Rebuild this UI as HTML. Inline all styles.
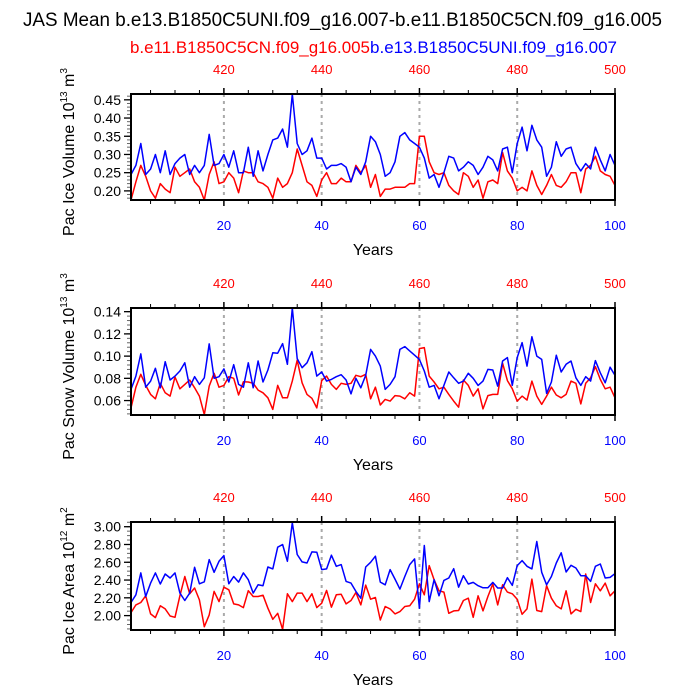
<!DOCTYPE html>
<html><head><meta charset="utf-8"><style>
html,body{margin:0;padding:0;background:#fff;}
svg{display:block;font-family:"Liberation Sans",Arial,sans-serif;}
</style></head><body>
<svg id="chart" width="686" height="685" viewBox="0 0 686 685" xmlns="http://www.w3.org/2000/svg">
<text x="23" y="26" font-size="19" textLength="639" lengthAdjust="spacingAndGlyphs">JAS Mean b.e13.B1850C5UNI.f09_g16.007-b.e11.B1850C5CN.f09_g16.005</text>
<text x="130" y="53" font-size="16.5" fill="#ff0000" textLength="240" lengthAdjust="spacingAndGlyphs">b.e11.B1850C5CN.f09_g16.005</text>
<text x="370" y="53" font-size="16.5" fill="#0000ff" textLength="247" lengthAdjust="spacingAndGlyphs">b.e13.B1850C5UNI.f09_g16.007</text>
</svg>
<script>
const years = Array.from({length:100},(_,i)=>i+1);
const iceVolBlue = [0.245,0.27,0.33,0.245,0.26,0.30,0.25,0.31,0.245,0.275,0.29,0.30,0.245,0.27,0.25,0.27,0.355,0.27,0.275,0.30,0.265,0.31,0.25,0.25,0.32,0.24,0.31,0.255,0.30,0.34,0.345,0.37,0.32,0.466,0.33,0.30,0.31,0.345,0.29,0.29,0.26,0.27,0.27,0.275,0.265,0.225,0.265,0.245,0.28,0.35,0.335,0.30,0.24,0.25,0.28,0.35,0.36,0.34,0.33,0.32,0.29,0.235,0.245,0.21,0.25,0.295,0.29,0.255,0.265,0.28,0.27,0.245,0.265,0.295,0.285,0.255,0.315,0.32,0.25,0.33,0.375,0.31,0.38,0.34,0.32,0.24,0.265,0.335,0.295,0.315,0.32,0.275,0.255,0.275,0.26,0.32,0.285,0.255,0.30,0.27];
const iceVolRed = [0.175,0.225,0.27,0.24,0.20,0.18,0.22,0.205,0.195,0.265,0.24,0.25,0.26,0.225,0.21,0.175,0.245,0.28,0.22,0.225,0.25,0.235,0.195,0.255,0.25,0.25,0.225,0.22,0.21,0.18,0.235,0.21,0.22,0.25,0.315,0.27,0.225,0.215,0.185,0.23,0.25,0.22,0.22,0.235,0.225,0.225,0.27,0.25,0.27,0.21,0.245,0.185,0.205,0.205,0.21,0.21,0.21,0.22,0.22,0.35,0.35,0.28,0.25,0.245,0.25,0.215,0.20,0.19,0.25,0.24,0.21,0.23,0.18,0.225,0.23,0.22,0.305,0.255,0.235,0.20,0.21,0.20,0.255,0.215,0.19,0.215,0.245,0.215,0.21,0.225,0.25,0.25,0.195,0.26,0.27,0.295,0.255,0.245,0.24,0.215];
const snowBlue = [0.070,0.082,0.102,0.072,0.0775,0.089,0.0715,0.095,0.0785,0.082,0.0866,0.094,0.072,0.0815,0.0745,0.0805,0.111,0.080,0.0815,0.0885,0.0767,0.0923,0.0745,0.072,0.094,0.0715,0.0956,0.0767,0.0875,0.103,0.1026,0.1113,0.0926,0.1433,0.0978,0.0896,0.094,0.104,0.082,0.0857,0.0775,0.079,0.0815,0.0833,0.0785,0.066,0.080,0.0715,0.0827,0.106,0.100,0.091,0.070,0.0745,0.0815,0.106,0.1086,0.1047,0.1008,0.097,0.0866,0.072,0.0736,0.0616,0.0736,0.0857,0.0805,0.0755,0.0775,0.0845,0.080,0.0736,0.0775,0.088,0.0875,0.073,0.0956,0.0987,0.0736,0.0987,0.1122,0.091,0.1174,0.100,0.097,0.0664,0.0767,0.1008,0.0857,0.0926,0.0956,0.0805,0.0736,0.0815,0.0775,0.096,0.085,0.076,0.090,0.0827];
const snowRed = [0.0534,0.072,0.0836,0.0736,0.0655,0.0616,0.0755,0.067,0.064,0.0812,0.0706,0.0745,0.0785,0.0715,0.064,0.0474,0.073,0.0845,0.072,0.0736,0.0815,0.080,0.065,0.077,0.0767,0.0755,0.0694,0.067,0.0625,0.052,0.0736,0.0625,0.0625,0.0775,0.0963,0.076,0.0655,0.062,0.0534,0.078,0.082,0.0745,0.070,0.0755,0.0745,0.0755,0.0827,0.0815,0.0836,0.0616,0.072,0.056,0.061,0.0595,0.0645,0.064,0.0616,0.067,0.064,0.1068,0.1077,0.082,0.0767,0.0706,0.072,0.0655,0.0595,0.054,0.0785,0.0736,0.064,0.0706,0.0525,0.0645,0.0655,0.0655,0.0935,0.078,0.0706,0.0595,0.064,0.0604,0.0775,0.064,0.0565,0.064,0.072,0.065,0.0625,0.0655,0.0775,0.0755,0.057,0.0755,0.0805,0.0905,0.079,0.0706,0.072,0.0625];
const areaBlue = [2.147,2.234,2.48,2.215,2.366,2.48,2.355,2.468,2.423,2.48,2.253,2.17,2.253,2.543,2.358,2.38,2.63,2.487,2.611,2.675,2.358,2.44,2.377,2.48,2.404,2.253,2.347,2.336,2.547,2.525,2.77,2.80,2.611,3.045,2.687,2.604,2.592,2.717,2.713,2.517,2.525,2.679,2.555,2.574,2.385,2.366,2.272,2.196,2.547,2.60,2.668,2.377,2.347,2.517,2.411,2.298,2.44,2.574,2.638,2.083,2.789,2.158,2.404,2.223,2.396,2.423,2.528,2.32,2.449,2.355,2.374,2.336,2.313,2.313,2.374,2.31,2.31,2.426,2.34,2.562,2.619,2.555,2.525,2.834,2.487,2.347,2.44,2.592,2.706,2.49,2.566,2.536,2.449,2.449,2.385,2.555,2.581,2.423,2.43,2.472];
const areaRed = [2.034,2.12,2.147,2.223,2.019,1.977,2.11,2.075,1.996,1.981,2.223,2.44,2.245,2.31,2.177,1.875,2.008,2.272,2.158,2.32,2.29,2.132,2.12,2.09,2.28,2.215,2.215,2.23,2.083,1.958,2.026,1.845,2.245,2.158,2.253,2.253,2.158,2.245,2.09,2.14,2.283,2.094,2.234,2.24,2.132,2.17,2.26,2.12,2.343,2.185,2.204,1.951,2.102,2.075,2.019,2.045,2.102,2.11,2.185,2.358,2.234,2.562,2.404,2.279,2.264,2.026,2.053,2.057,2.17,2.196,1.981,2.223,2.053,2.215,2.355,2.12,2.347,2.264,2.245,2.185,2.015,2.075,2.411,2.057,2.045,2.336,2.196,2.11,2.075,2.279,2.019,2.071,2.045,2.468,2.147,2.358,2.279,2.366,2.223,2.279];
const bottomTicks = [20,40,60,80,100];
const topTickLabels = ["420","440","460","480","500"];
const vol_ticks = ["0.20","0.25","0.30","0.35","0.40","0.45"];
const snow_ticks = ["0.06","0.08","0.10","0.12","0.14"];
const area_ticks = ["2.00","2.20","2.40","2.60","2.80","3.00"];

const NS="http://www.w3.org/2000/svg";
const svg=document.getElementById('chart');
function mk(tag,attrs,parent){const e=document.createElementNS(NS,tag);for(const k in attrs)e.setAttribute(k,attrs[k]);(parent||svg).appendChild(e);return e;}

const X0=131,X1=615;
function xs(yr){return X0+(yr-1)*(X1-X0)/99;}

const panels=[
 {name:'ice-volume',top:94,bot:200,ymin:0.175,ymax:0.466,ticks:vol_ticks,minor:0.01,blue:iceVolBlue,red:iceVolRed,label:['Pac Ice Volume 10','13',' m','3']},
 {name:'snow-volume',top:308,bot:415,ymin:0.047,ymax:0.1433,ticks:snow_ticks,minor:0.004,blue:snowBlue,red:snowRed,label:['Pac Snow Volume 10','13',' m','3']},
 {name:'ice-area',top:522,bot:630,ymin:1.838,ymax:3.053,ticks:area_ticks,minor:0.05,blue:areaBlue,red:areaRed,label:['Pac Ice Area 10','12',' m','2']}
];

panels.forEach(p=>{
 const g=mk('g',{});
 
 
 const ys=v=>p.bot-(v-p.ymin)*(p.bot-p.top)/(p.ymax-p.ymin);
 bottomTicks.slice(0,4).forEach(t=>{
  const l=mk('line',{x1:xs(t),x2:xs(t),y1:p.top,y2:p.bot,stroke:'#aaaaaa','stroke-width':2,'stroke-dasharray':'3,4'},g);
  
  
 });
 for(let yr=5;yr<=100;yr+=5){
  const major=yr%20===0;const len=major?6:4;
  mk('line',{x1:xs(yr),x2:xs(yr),y1:p.bot,y2:p.bot+len,stroke:'#000','stroke-width':major?1.5:1},g);
  mk('line',{x1:xs(yr),x2:xs(yr),y1:p.top,y2:p.top-len,stroke:'#000','stroke-width':major?1.5:1},g);
 }
 bottomTicks.forEach((t,i)=>{
  const b=mk('text',{x:xs(t),y:p.bot+30,'text-anchor':'middle','font-size':13,fill:'#0000ff'},g);
  b.textContent=String(t);
  
  
  const tt=mk('text',{x:xs(t),y:p.top-20,'text-anchor':'middle','font-size':13,fill:'#ff0000'},g);
  tt.textContent=topTickLabels[i];
  
  
 });
 for(let v=Math.ceil(p.ymin/p.minor)*p.minor;v<=p.ymax+1e-9;v+=p.minor){
  mk('line',{x1:X0,x2:X0-4,y1:ys(v),y2:ys(v),stroke:'#666','stroke-width':1},g);
 }
 p.ticks.forEach(t=>{
  const v=parseFloat(t);
  mk('line',{x1:X0,x2:X0-7,y1:ys(v),y2:ys(v),stroke:'#000','stroke-width':1.3},g);
  const tl=mk('text',{x:X0-10,y:ys(v)+5,'text-anchor':'end','font-size':14},g);
  tl.textContent=t;
  
  
 });
 const cp=mk('clipPath',{id:'cp-'+p.name},g);
 mk('rect',{x:X0,y:p.top,width:X1-X0,height:p.bot-p.top},cp);
 const sg=mk('g',{'clip-path':'url(#cp-'+p.name+')'},g);
 const lineIn=(arr,col,nm)=>{
  const pts=arr.map((v,i)=>xs(years[i]).toFixed(1)+','+ys(v).toFixed(1)).join(' ');
  const pl=mk('polyline',{points:pts,fill:'none',stroke:col,'stroke-width':1.5,'stroke-linejoin':'round'},sg);
  
  
 };
 lineIn(p.red,'#ff0000',p.name+'-red-series');
 lineIn(p.blue,'#0000ff',p.name+'-blue-series');
 const fr=mk('rect',{x:X0,y:p.top,width:X1-X0,height:p.bot-p.top,fill:'none',stroke:'#000','stroke-width':2},g);
 
 
 const xt=mk('text',{x:(X0+X1)/2,y:p.bot+55,'text-anchor':'middle','font-size':16},g);
 xt.textContent='Years';
 
 
 const cy=(p.top+p.bot)/2+5;
 const yt=mk('text',{x:0,y:0,'text-anchor':'middle','font-size':16,transform:'translate(74,'+cy+') rotate(-90)'},g);
 
 
 const L=p.label;
 const s1=mk('tspan',{},yt);s1.textContent=L[0];
 const s2=mk('tspan',{dy:-7,'font-size':10},yt);s2.textContent=L[1];
 const s3=mk('tspan',{dy:7},yt);s3.textContent=L[2];
 const s4=mk('tspan',{dy:-7,'font-size':10},yt);s4.textContent=L[3];
});
</script>
</body></html>
